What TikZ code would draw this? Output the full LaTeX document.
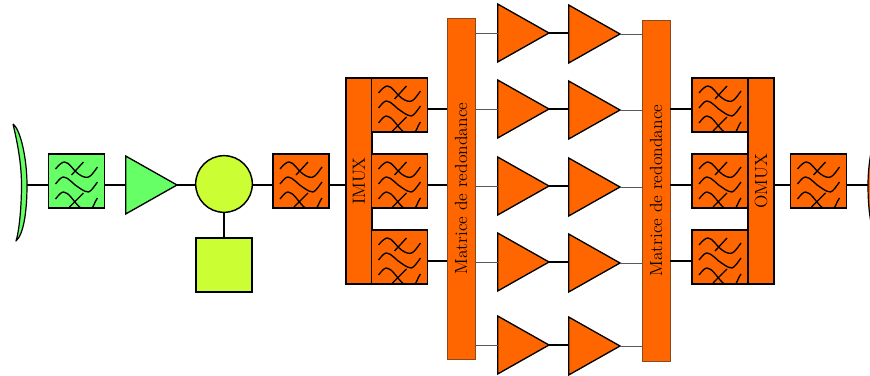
\documentclass[tikz,border=0pt]{standalone}
\usetikzlibrary{shapes.geometric}
\definecolor{vert}{HTML}{66FF66}
\definecolor{jaune}{HTML}{CCFF33}
\definecolor{orange}{HTML}{FF6600}
\definecolor{bordmat}{HTML}{8A4A20}
\begin{document}
\begin{tikzpicture}[
  x=0.75pt, y=-0.75pt,
  bloc/.style={draw, line width=1.1pt, inner sep=0pt, minimum width=42pt, minimum height=40.5pt},
  flt/.style={bloc, fill=orange, path picture={
    \draw[line width=1pt, shift={(path picture bounding box.center)}]
      (-21,-12) .. controls (-17,-17) and (-14,-19) .. (-12,-19) .. controls (-7,-19) and (-3,-10) .. (2,-7) .. controls (6,-4) and (10,-3) .. (12,-4) .. controls (15,-5) and (18,-10) .. (21,-14)
      (-21,3) .. controls (-17,-2) and (-15,-4) .. (-13,-4) .. controls (-8,-4) and (-3,4) .. (3,7) .. controls (7,10) and (10,11) .. (12,11) .. controls (15,10) and (18,5) .. (21,1)
      (-21,18) .. controls (-17,13) and (-15,11) .. (-13,11) .. controls (-8,11) and (-3,20) .. (2,25) .. controls (6,29) and (10,32) .. (12,32) .. controls (15,31) and (18,21) .. (21,17)
      (-5,-6) -- (7,-19)
      (-7,26) -- (7,12);
  }},
  amp/.style={isosceles triangle, isosceles triangle stretches, shape border rotate=0,
    draw, line width=1pt, fill=orange, inner sep=0pt, outer sep=0pt, minimum width=43.5pt, minimum height=38.5pt, anchor=apex},
  mux/.style={draw, line width=1.1pt, fill=orange, inner sep=0pt, minimum width=19.5pt, minimum height=154.5pt, font=\fontsize{13.2}{14}\selectfont},
  mat/.style={draw=bordmat, line width=0.4pt, fill=orange, inner sep=0pt, minimum width=21pt, minimum height=256pt, font=\fontsize{13.2}{14}\selectfont},
  wire/.style={line width=1pt},
  fil/.style={line width=0.5pt, draw=black!65}
]
\clip (0,0) rectangle (870,375);

% --- antennas ---
\draw[line width=0.9pt, line join=round, fill=vert] (13,124) .. controls (21,130) and (27,160) .. (27,185) .. controls (27,210) and (24,234) .. (16,241) .. controls (19,232) and (21.5,208) .. (21.5,185) .. controls (21.5,165) and (18,145) .. (13,124);
\draw[line width=0.9pt, line join=round, fill=orange] (882,124) .. controls (874,130) and (868,160) .. (868,185) .. controls (868,210) and (871,234) .. (879,241) .. controls (876,232) and (873.5,208) .. (873.5,185) .. controls (873.5,165) and (877,145) .. (882,124);
\coordinate (antin) at (27,185);
\coordinate (antout) at (868,185);

% --- reception chain ---
\node[flt, fill=vert] (fltin) at (76.5,181) {};
\node[amp, fill=vert] (lna) at (177,185) {};
\node[circle, draw, line width=1.1pt, fill=jaune, inner sep=0pt, minimum size=42.5pt] (mix) at (224,184) {};
\node[bloc, fill=jaune] (lo) at (224,265) {};
\node[flt] (fltmix) at (301,181) {};

% --- input multiplexer ---
\node[mux] (imux) at (359,181) {\rotatebox{90}{IMUX}};
\node[flt] (flta) at (399.5,105) {};
\node[flt] (fltb) at (399.5,181) {};
\node[flt] (fltc) at (399.5,257) {};

% --- redundancy matrices ---
\node[mat] (mata) at (461,188.5) {\rotatebox{90}{Matrice de redondance}};
\node[mat] (matb) at (656,190.5) {\rotatebox{90}{Matrice de redondance}};

% --- amplifiers ---
\node[amp] (ampa) at (549,33) {};
\node[amp] (ampb) at (549,109) {};
\node[amp] (ampc) at (549,186) {};
\node[amp] (ampd) at (549,262) {};
\node[amp] (ampe) at (549,345) {};
\node[amp] (hpaa) at (620,34) {};
\node[amp] (hpab) at (620,110) {};
\node[amp] (hpac) at (620,187) {};
\node[amp] (hpad) at (620,263) {};
\node[amp] (hpae) at (620,346) {};

% --- output multiplexer ---
\node[flt] (fltd) at (720,105) {};
\node[flt] (flte) at (720,181) {};
\node[flt] (fltf) at (720,257) {};
\node[mux] (omux) at (761,181) {\rotatebox{90}{OMUX}};
\node[flt] (fltout) at (818.5,181) {};

% --- connectors ---
\draw[wire] (antin) -- (antin -| fltin.west);
\draw[wire] ([yshift=-3pt]fltin.east) -- (lna.west);
\draw[wire] (lna.apex) -- (lna.apex -| mix.west);
\draw[wire] (mix.south) -- (lo.north);
\draw[wire] ([yshift=-3pt]fltmix.west -| mix.east) -- ([yshift=-3pt]fltmix.west);
\draw[wire] ([yshift=-3pt]fltmix.east) -- ([yshift=-3pt]imux.west);
\draw[wire] ([yshift=-3pt]flta.east) -- ([yshift=-3pt]flta.east -| mata.west);
\draw[wire] ([yshift=-3pt]fltb.east) -- ([yshift=-3pt]fltb.east -| mata.west);
\draw[wire] ([yshift=-3pt]fltc.east) -- ([yshift=-3pt]fltc.east -| mata.west);
\draw[fil] (ampa.west -| mata.east) -- (ampa.west);
\draw[fil] (ampb.west -| mata.east) -- (ampb.west);
\draw[fil] (ampc.west -| mata.east) -- (ampc.west);
\draw[fil] (ampd.west -| mata.east) -- (ampd.west);
\draw[fil] (ampe.west -| mata.east) -- (ampe.west);
\draw[wire] (ampa.apex) -- (ampa.apex -| hpaa.west);
\draw[wire] (ampb.apex) -- (ampb.apex -| hpab.west);
\draw[wire] (ampc.apex) -- (ampc.apex -| hpac.west);
\draw[wire] (ampd.apex) -- (ampd.apex -| hpad.west);
\draw[wire] (ampe.apex) -- (ampe.apex -| hpae.west);
\draw[fil] (hpaa.apex) -- (hpaa.apex -| matb.west);
\draw[fil] (hpab.apex) -- (hpab.apex -| matb.west);
\draw[fil] (hpac.apex) -- (hpac.apex -| matb.west);
\draw[fil] (hpad.apex) -- (hpad.apex -| matb.west);
\draw[fil] (hpae.apex) -- (hpae.apex -| matb.west);
\draw[wire] ([yshift=-3pt]fltd.west -| matb.east) -- ([yshift=-3pt]fltd.west);
\draw[wire] ([yshift=-3pt]flte.west -| matb.east) -- ([yshift=-3pt]flte.west);
\draw[wire] ([yshift=-3pt]fltf.west -| matb.east) -- ([yshift=-3pt]fltf.west);
\draw[wire] ([yshift=-3pt]omux.east) -- ([yshift=-3pt]fltout.west);
\draw[wire] ([yshift=-3pt]fltout.east) -- (antout);

\end{tikzpicture}
\end{document}
